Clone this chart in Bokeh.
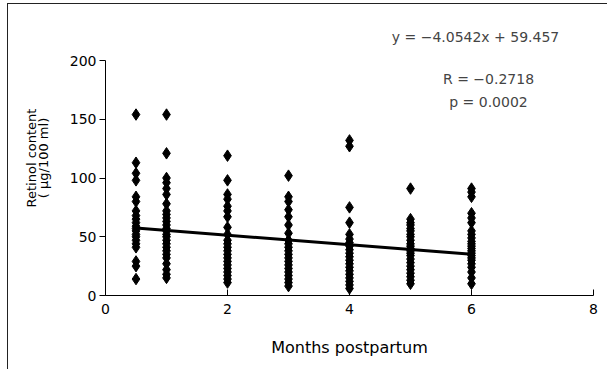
import math
from bokeh.plotting import figure
from bokeh.models import Label, Range1d, FixedTicker, LinearAxis
from bokeh.embed import file_html
from bokeh.resources import INLINE

# Months postpartum (group positions)
months = [0.5, 1, 2, 3, 4, 5, 6]

# Retinol content (ug/100 ml)
ret_m05 = [154, 113, 104, 98, 84, 80, 72, 68, 65, 62, 59, 57, 55, 52, 50, 47, 44, 41, 29, 25, 14]
ret_m1 = [154, 121, 100, 96, 91, 86, 78, 72, 69, 66, 63, 60, 57, 55, 52, 50, 47, 44, 41, 38, 35, 32, 27, 22, 18, 15]
ret_m2 = [119, 98, 86, 82, 76, 72, 67, 58, 52, 47, 44, 41, 38, 35, 32, 29, 26, 23, 20, 17, 14, 11]
ret_m3 = [102, 84, 80, 73, 67, 60, 53, 47, 44, 41, 38, 35, 32, 29, 26, 23, 20, 17, 14, 11, 8]
ret_m4 = [132, 127, 75, 62, 52, 48, 45, 42, 39, 36, 33, 30, 27, 24, 21, 18, 15, 12, 9, 6]
ret_m5 = [91, 65, 62, 60, 57, 55, 52, 50, 47, 44, 42, 40, 38, 36, 34, 31, 28, 25, 22, 19, 16, 13, 10]
ret_m6 = [91, 88, 84, 70, 66, 62, 55, 52, 49, 46, 44, 42, 40, 38, 36, 34, 32, 30, 27, 24, 20, 15, 10]

# Regression
slope = -4.0542
intercept = 59.457
fit_x = [0.5, 6]

x_ticks = [0, 2, 4, 6, 8]
y_ticks = [0, 50, 100, 150, 200]

FONT = "DejaVu Sans"
FS = "14px"

groups = [ret_m05, ret_m1, ret_m2, ret_m3, ret_m4, ret_m5, ret_m6]
xs, ys = [], []
for m, vals in zip(months, groups):
    xs += [m] * len(vals)
    ys += vals

p = figure(width=600, height=366, output_backend="svg", toolbar_location=None,
           x_range=Range1d(0, 8), y_range=Range1d(0, 275 / 1.175),
           min_border_left=97, min_border_right=15, min_border_top=16, min_border_bottom=75)
p.outline_line_color = None
p.grid.visible = False
p.background_fill_color = "white"
p.border_fill_color = "white"

p.scatter(xs, ys, marker="diamond", size=11.5, color="black")
p.line(fit_x, [slope * x + intercept for x in fit_x], line_width=3, color="black")

xa = p.xaxis[0]
xa.ticker = FixedTicker(ticks=x_ticks)
xa.minor_tick_line_color = None
xa.major_tick_in = 6
xa.major_tick_out = 0
xa.axis_line_color = "black"
xa.major_label_text_font = FONT
xa.major_label_text_font_size = FS
xa.major_label_text_color = "black"
xa.major_label_standoff = 8
xa.axis_label = "Months postpartum"
xa.axis_label_text_font = FONT
xa.axis_label_text_font_size = "16px"
xa.axis_label_text_font_style = "normal"
xa.axis_label_text_color = "black"
xa.axis_label_standoff = 21

ya = p.yaxis[0]
ya.ticker = FixedTicker(ticks=y_ticks)
ya.bounds = (0, 200)
ya.minor_tick_line_color = None
ya.major_tick_in = 0
ya.major_tick_out = 6
ya.major_label_text_font = FONT
ya.major_label_text_font_size = FS
ya.major_label_text_color = "black"
ya.major_label_standoff = 3
ya.axis_label = "( \u03bcg/100 ml)"
ya.axis_label_text_font = FONT
ya.axis_label_text_font_size = "13px"
ya.axis_label_text_font_style = "normal"
ya.axis_label_text_color = "black"
ya.axis_label_standoff = 16

# outer axis carrying only the first line of the y label
ya2 = LinearAxis(bounds=(0, 200), axis_line_color=None, major_tick_line_color=None,
                 minor_tick_line_color=None, major_label_text_font_size="0px",
                 major_label_standoff=0, major_tick_in=0, major_tick_out=0,
                 axis_label="Retinol content", axis_label_text_font=FONT,
                 axis_label_text_font_size="13px", axis_label_text_font_style="normal",
                 axis_label_text_color="black", axis_label_standoff=-6)
ya2.ticker = FixedTicker(ticks=[])
p.add_layout(ya2, "left")

# annotation texts (screen units are relative to the plot frame)
for txt, cx, cy in [("y = \u22124.0542x + 59.457", 370, 259),
                    ("R = \u22120.2718", 383, 217),
                    ("p = 0.0002", 383, 194)]:
    p.add_layout(Label(x=cx, y=cy, x_units="screen", y_units="screen", text=txt,
                       text_align="center", text_baseline="middle",
                       text_font=FONT, text_font_size=FS))

p.styles = {"border-top": "1px solid #222", "border-left": "1px solid #222",
            "margin-left": "7px", "margin-top": "3px"}

open("out.html", "w").write(file_html(p, INLINE))
